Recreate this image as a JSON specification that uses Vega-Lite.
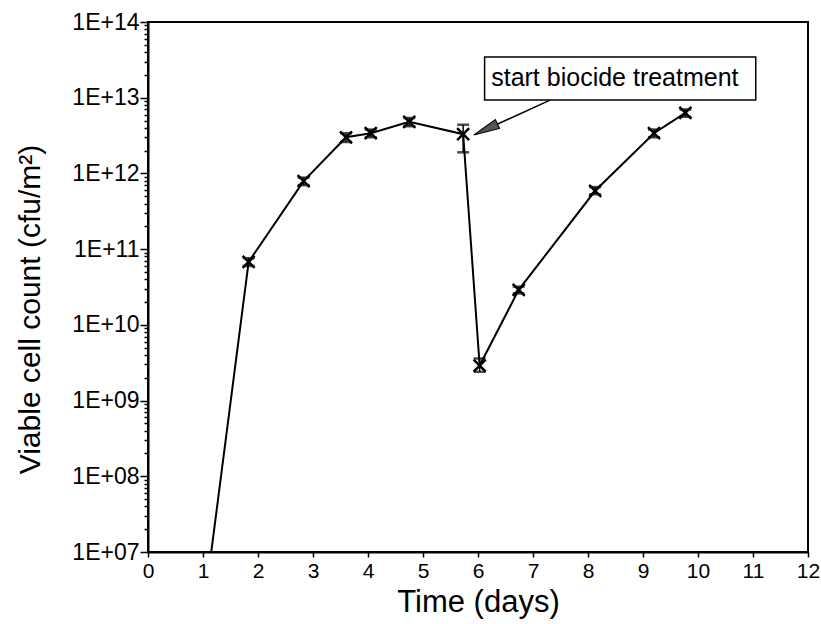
{
  "$schema": "https://vega.github.io/schema/vega-lite/v6.json",
  "width": 660,
  "height": 530,
  "autosize": "none",
  "padding": {"left": 148, "top": 22, "right": 13, "bottom": 72},
  "background": "white",
  "config": {
    "font": "Liberation Sans",
    "view": {"stroke": "black", "strokeWidth": 2},
    "axis": {"domainColor": "black", "domainWidth": 2, "tickColor": "black", "labelColor": "black", "titleColor": "black", "grid": false}
  },
  "datasets": {
    "counts": [
      {"day": 1.15, "count": 1e7, "marker": false},
      {"day": 1.83, "count": 6.8e10, "lo": 6.0e10, "hi": 7.6e10, "marker": true},
      {"day": 2.83, "count": 7.9e11, "lo": 7.0e11, "hi": 8.8e11, "marker": true},
      {"day": 3.6, "count": 3.0e12, "lo": 2.6e12, "hi": 3.4e12, "marker": true},
      {"day": 4.05, "count": 3.4e12, "lo": 3.0e12, "hi": 3.8e12, "marker": true},
      {"day": 4.75, "count": 4.8e12, "lo": 4.2e12, "hi": 5.4e12, "marker": true},
      {"day": 5.73, "count": 3.3e12, "lo": 1.9e12, "hi": 4.4e12, "marker": true},
      {"day": 6.03, "count": 2.9e9, "lo": 2.4e9, "hi": 3.6e9, "marker": true},
      {"day": 6.74, "count": 2.9e10, "lo": 2.6e10, "hi": 3.2e10, "marker": true},
      {"day": 8.13, "count": 5.9e11, "lo": 5.3e11, "hi": 6.6e11, "marker": true},
      {"day": 9.2, "count": 3.4e12, "lo": 3.0e12, "hi": 3.8e12, "marker": true},
      {"day": 9.77, "count": 6.3e12, "lo": 5.6e12, "hi": 7.0e12, "marker": true}
    ],
    "note": [
      {"label": "start biocide treatment", "x1": 6.12, "x2": 11.05, "ytop": 3.45e13, "ybot": 9.3e12, "tx": 6.24, "ty": 1.8e13, "ax1": 7.31, "ay1": 9.3e12, "ax2": 6.14, "ay2": 3.8e12}
    ]
  },
  "layer": [
    {
      "data": {"name": "counts"},
      "mark": {"type": "line", "color": "black", "strokeWidth": 2, "clip": true},
      "encoding": {
        "x": {"field": "day", "type": "quantitative",
              "scale": {"domain": [0, 12], "nice": false},
              "axis": {"values": [0,1,2,3,4,5,6,7,8,9,10,11,12], "format": "d", "labelOverlap": false, "labelFlush": false, "title": "Time (days)", "titleFontSize": 31, "titleFontWeight": "normal", "labelFontSize": 21, "tickSize": 5, "tickWidth": 1.5, "labelPadding": 3, "titlePadding": 6}},
        "y": {"field": "count", "type": "quantitative",
              "scale": {"type": "log", "domain": [1e7, 1e14], "nice": false},
              "axis": {
                "values": [1e7,2e7,3e7,4e7,5e7,6e7,7e7,8e7,9e7,1e8,2e8,3e8,4e8,5e8,6e8,7e8,8e8,9e8,1e9,2e9,3e9,4e9,5e9,6e9,7e9,8e9,9e9,1e10,2e10,3e10,4e10,5e10,6e10,7e10,8e10,9e10,1e11,2e11,3e11,4e11,5e11,6e11,7e11,8e11,9e11,1e12,2e12,3e12,4e12,5e12,6e12,7e12,8e12,9e12,1e13,2e13,3e13,4e13,5e13,6e13,7e13,8e13,9e13,1e14],
                "labelExpr": "abs(log(datum.value)/LN10 - round(log(datum.value)/LN10)) < 0.001 ? '1E+' + (round(log(datum.value)/LN10) < 10 ? '0' : '') + round(log(datum.value)/LN10) : ''",
                "labelOverlap": false,
                "labelFlush": false,
                "labelFontSize": 23,
                "labelPadding": 1,
                "tickSize": {"condition": {"test": "abs(log(datum.value)/LN10 - round(log(datum.value)/LN10)) < 0.001", "value": 8}, "value": 4},
                "tickWidth": 1.5,
                "title": "Viable cell count (cfu/m²)",
                "titleFontSize": 30,
                "titleFontWeight": "normal",
                "titlePadding": 26,
                "titleY": 287
              }}
      }
    },
    {
      "data": {"name": "counts"},
      "transform": [{"filter": "isValid(datum.lo)"}],
      "mark": {"type": "rule", "color": "black", "strokeWidth": 1.5},
      "encoding": {
        "x": {"field": "day", "type": "quantitative"},
        "y": {"field": "lo", "type": "quantitative"},
        "y2": {"field": "hi"}
      }
    },
    {
      "data": {"name": "counts"},
      "transform": [{"filter": "isValid(datum.lo)"}],
      "mark": {"type": "tick", "orient": "horizontal", "color": "black", "size": 12, "thickness": 2.5},
      "encoding": {
        "x": {"field": "day", "type": "quantitative"},
        "y": {"field": "lo", "type": "quantitative"}
      }
    },
    {
      "data": {"name": "counts"},
      "transform": [{"filter": "isValid(datum.hi)"}],
      "mark": {"type": "tick", "orient": "horizontal", "color": "black", "size": 12, "thickness": 2.5},
      "encoding": {
        "x": {"field": "day", "type": "quantitative"},
        "y": {"field": "hi", "type": "quantitative"}
      }
    },
    {
      "data": {"name": "counts"},
      "transform": [{"filter": "datum.marker"}],
      "mark": {"type": "point", "shape": "M-1,-1L1,1M1,-1L-1,1", "filled": false, "color": "black", "strokeWidth": 2.5, "size": 144, "opacity": 1},
      "encoding": {
        "x": {"field": "day", "type": "quantitative"},
        "y": {"field": "count", "type": "quantitative"}
      }
    },
    {
      "data": {"name": "note"},
      "mark": {"type": "rect", "fill": "white", "stroke": "black", "strokeWidth": 1.5},
      "encoding": {
        "x": {"field": "x1", "type": "quantitative"},
        "x2": {"field": "x2"},
        "y": {"field": "ytop", "type": "quantitative"},
        "y2": {"field": "ybot"}
      }
    },
    {
      "data": {"name": "note"},
      "mark": {"type": "text", "align": "left", "baseline": "middle", "fontSize": 25, "color": "black"},
      "encoding": {
        "x": {"field": "tx", "type": "quantitative"},
        "y": {"field": "ty", "type": "quantitative"},
        "text": {"field": "label"}
      }
    },
    {
      "data": {"name": "note"},
      "mark": {"type": "rule", "color": "black", "strokeWidth": 1.5},
      "encoding": {
        "x": {"field": "ax1", "type": "quantitative"},
        "y": {"field": "ay1", "type": "quantitative"},
        "x2": {"field": "ax2"},
        "y2": {"field": "ay2"}
      }
    },
    {
      "data": {"name": "note"},
      "mark": {"type": "point", "shape": "M0,-1L0.38,1L-0.38,1Z", "filled": true, "fill": "#555", "stroke": "black", "strokeWidth": 1, "size": 676, "angle": 245, "opacity": 1},
      "encoding": {
        "x": {"field": "ax2", "type": "quantitative"},
        "y": {"field": "ay2", "type": "quantitative"}
      }
    }
  ]
}
